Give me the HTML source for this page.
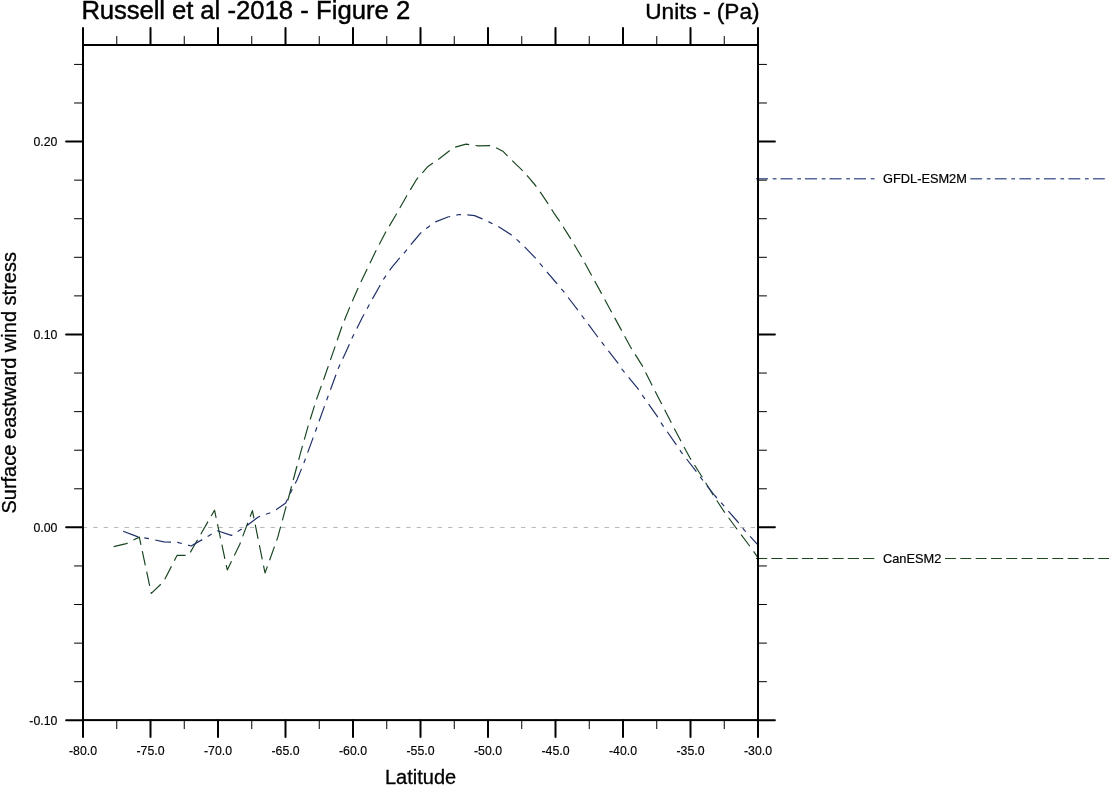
<!DOCTYPE html>
<html lang="en"><head><meta charset="utf-8"><title>Russell et al -2018 - Figure 2</title>
<style>
html,body{margin:0;padding:0;background:#fff;}
body{width:1109px;height:785px;overflow:hidden;}
svg{display:block;}
text{font-family:"Liberation Sans",Arial,Helvetica,sans-serif;fill:#000;}
</style></head><body>
<svg width="1109" height="785" viewBox="0 0 1109 785">
<rect width="1109" height="785" fill="#fff"/>
<line x1="82.8" y1="527.45" x2="758.0" y2="527.45" stroke="#b6b6b6" stroke-width="1" stroke-dasharray="4.4 6.035"/>
<path d="M113.7,546.6 L126.3,543.6 L139.3,537.1 L151.3,593.4 L163.7,581.5 L177.0,555.4 L188.5,555.4 L201.9,532.3 L214.5,510.2 L227.3,569.9 L239.7,544.5 L252.4,510.6 L265.0,573.0 L277.6,537.9 L290.2,491.5 L293.2,480.0 L300.6,452.7 L308.1,426.2 L316.4,399.7 L324.7,376.5 L333.0,352.6 L341.5,327.7 L349.8,307.0 L358.1,287.9 L367.2,268.9 L375.3,252.0 L385.6,232.2 L395.7,215.3 L406.5,196.2 L416.4,179.7 L428.0,166.4 L437.9,159.8 L449.5,150.7 L455.3,147.1 L466.0,144.1 L478.3,145.9 L490.5,145.6 L495.6,147.4 L503.3,151.6 L507.2,155.7 L512.2,160.6 L516.1,164.4 L522.1,170.2 L528.7,177.4 L535.9,186.0 L541.3,193.6 L547.5,202.9 L553.8,212.8 L559.4,220.8 L566.4,231.9 L570.5,238.4 L581.3,256.5 L591.2,274.7 L601.2,292.9 L611.1,311.2 L621.0,329.4 L630.5,347.0 L642.2,365.6 L651.3,383.8 L661.2,402.9 L670.4,421.1 L680.1,439.6 L689.9,457.8 L702.3,477.3 L713.0,494.7 L723.8,511.2 L735.4,527.0 L747.8,543.5 L757.4,556.8" fill="none" stroke="#184621" stroke-width="1.18" stroke-dasharray="14.5 6.44" stroke-linejoin="round"/>
<path d="M123.1,531.2 L136.7,536.4 L150.3,538.9 L163.9,541.9 L177.5,542.4 L191.1,546.0 L204.2,538.5 L217.3,530.8 L231.4,535.4 L244.7,527.3 L257.9,517.2 L270.3,512.7 L276.1,509.7 L285.7,503.1 L291.9,489.9 L297.0,480.0 L304.0,462.6 L315.5,431.2 L327.1,398.9 L338.7,367.4 L345.7,352.5 L352.3,337.6 L362.2,317.7 L373.0,297.9 L383.8,278.8 L391.2,268.1 L398.5,259.3 L405.1,251.9 L410.6,244.8 L415.2,239.5 L420.5,233.2 L427.0,228.0 L435.5,221.9 L447.9,217.0 L459.5,214.5 L467.6,214.8 L474.6,215.6 L481.7,218.6 L489.8,222.4 L498.1,226.4 L510.5,234.3 L518.0,240.6 L524.4,246.7 L534.8,257.4 L540.7,264.4 L556.4,283.0 L563.1,290.9 L577.1,309.2 L582.9,317.0 L597.0,336.0 L603.0,343.8 L617.4,362.3 L622.3,369.7 L637.7,388.3 L643.0,396.2 L657.1,416.1 L662.1,424.4 L675.7,443.9 L681.4,452.3 L695.6,470.6 L702.3,479.7 L714.7,495.5 L721.3,502.9 L737.9,522.0 L744.5,530.3 L757.4,544.3" fill="none" stroke="#202e69" stroke-width="1.18" stroke-dasharray="16 6.3 4.7 6.4" stroke-linejoin="round"/>
<line x1="756" y1="178.7" x2="875" y2="178.7" stroke="#57689a" stroke-width="1.4" stroke-dasharray="12 4.7 3.8 4.0"/>
<line x1="970.3" y1="178.7" x2="1106" y2="178.7" stroke="#57689a" stroke-width="1.4" stroke-dasharray="11.8 4.7 3.7 4.34"/>
<line x1="756" y1="558.5" x2="875" y2="558.5" stroke="#1c481e" stroke-width="1.1" stroke-dasharray="11.2 4.1"/>
<line x1="945" y1="558.5" x2="1109" y2="558.5" stroke="#1c481e" stroke-width="1.1" stroke-dasharray="10.9 4.43"/>
<g stroke="#000" stroke-linecap="butt" fill="none">
<rect x="83.0" y="45.0" width="675.0" height="675.1" stroke-width="2"/>
<line x1="83.00" y1="720.15" x2="83.00" y2="737.05" stroke-width="2" stroke-linecap="round"/>
<line x1="83.00" y1="45.0" x2="83.00" y2="28.1" stroke-width="2" stroke-linecap="round"/>
<line x1="116.75" y1="720.15" x2="116.75" y2="729.05" stroke-width="1"/>
<line x1="116.75" y1="45.0" x2="116.75" y2="36.1" stroke-width="1"/>
<line x1="150.50" y1="720.15" x2="150.50" y2="737.05" stroke-width="2" stroke-linecap="round"/>
<line x1="150.50" y1="45.0" x2="150.50" y2="28.1" stroke-width="2" stroke-linecap="round"/>
<line x1="184.25" y1="720.15" x2="184.25" y2="729.05" stroke-width="1"/>
<line x1="184.25" y1="45.0" x2="184.25" y2="36.1" stroke-width="1"/>
<line x1="218.00" y1="720.15" x2="218.00" y2="737.05" stroke-width="2" stroke-linecap="round"/>
<line x1="218.00" y1="45.0" x2="218.00" y2="28.1" stroke-width="2" stroke-linecap="round"/>
<line x1="251.75" y1="720.15" x2="251.75" y2="729.05" stroke-width="1"/>
<line x1="251.75" y1="45.0" x2="251.75" y2="36.1" stroke-width="1"/>
<line x1="285.50" y1="720.15" x2="285.50" y2="737.05" stroke-width="2" stroke-linecap="round"/>
<line x1="285.50" y1="45.0" x2="285.50" y2="28.1" stroke-width="2" stroke-linecap="round"/>
<line x1="319.25" y1="720.15" x2="319.25" y2="729.05" stroke-width="1"/>
<line x1="319.25" y1="45.0" x2="319.25" y2="36.1" stroke-width="1"/>
<line x1="353.00" y1="720.15" x2="353.00" y2="737.05" stroke-width="2" stroke-linecap="round"/>
<line x1="353.00" y1="45.0" x2="353.00" y2="28.1" stroke-width="2" stroke-linecap="round"/>
<line x1="386.75" y1="720.15" x2="386.75" y2="729.05" stroke-width="1"/>
<line x1="386.75" y1="45.0" x2="386.75" y2="36.1" stroke-width="1"/>
<line x1="420.50" y1="720.15" x2="420.50" y2="737.05" stroke-width="2" stroke-linecap="round"/>
<line x1="420.50" y1="45.0" x2="420.50" y2="28.1" stroke-width="2" stroke-linecap="round"/>
<line x1="454.25" y1="720.15" x2="454.25" y2="729.05" stroke-width="1"/>
<line x1="454.25" y1="45.0" x2="454.25" y2="36.1" stroke-width="1"/>
<line x1="488.00" y1="720.15" x2="488.00" y2="737.05" stroke-width="2" stroke-linecap="round"/>
<line x1="488.00" y1="45.0" x2="488.00" y2="28.1" stroke-width="2" stroke-linecap="round"/>
<line x1="521.75" y1="720.15" x2="521.75" y2="729.05" stroke-width="1"/>
<line x1="521.75" y1="45.0" x2="521.75" y2="36.1" stroke-width="1"/>
<line x1="555.50" y1="720.15" x2="555.50" y2="737.05" stroke-width="2" stroke-linecap="round"/>
<line x1="555.50" y1="45.0" x2="555.50" y2="28.1" stroke-width="2" stroke-linecap="round"/>
<line x1="589.25" y1="720.15" x2="589.25" y2="729.05" stroke-width="1"/>
<line x1="589.25" y1="45.0" x2="589.25" y2="36.1" stroke-width="1"/>
<line x1="623.00" y1="720.15" x2="623.00" y2="737.05" stroke-width="2" stroke-linecap="round"/>
<line x1="623.00" y1="45.0" x2="623.00" y2="28.1" stroke-width="2" stroke-linecap="round"/>
<line x1="656.75" y1="720.15" x2="656.75" y2="729.05" stroke-width="1"/>
<line x1="656.75" y1="45.0" x2="656.75" y2="36.1" stroke-width="1"/>
<line x1="690.50" y1="720.15" x2="690.50" y2="737.05" stroke-width="2" stroke-linecap="round"/>
<line x1="690.50" y1="45.0" x2="690.50" y2="28.1" stroke-width="2" stroke-linecap="round"/>
<line x1="724.25" y1="720.15" x2="724.25" y2="729.05" stroke-width="1"/>
<line x1="724.25" y1="45.0" x2="724.25" y2="36.1" stroke-width="1"/>
<line x1="758.00" y1="720.15" x2="758.00" y2="737.05" stroke-width="2" stroke-linecap="round"/>
<line x1="758.00" y1="45.0" x2="758.00" y2="28.1" stroke-width="2" stroke-linecap="round"/>
<line x1="83.0" y1="720.27" x2="66.1" y2="720.27" stroke-width="2" stroke-linecap="round"/>
<line x1="758.0" y1="720.27" x2="774.9" y2="720.27" stroke-width="2" stroke-linecap="round"/>
<line x1="83.0" y1="681.69" x2="74.1" y2="681.69" stroke-width="1"/>
<line x1="758.0" y1="681.69" x2="766.9" y2="681.69" stroke-width="1"/>
<line x1="83.0" y1="643.11" x2="74.1" y2="643.11" stroke-width="1"/>
<line x1="758.0" y1="643.11" x2="766.9" y2="643.11" stroke-width="1"/>
<line x1="83.0" y1="604.53" x2="74.1" y2="604.53" stroke-width="1"/>
<line x1="758.0" y1="604.53" x2="766.9" y2="604.53" stroke-width="1"/>
<line x1="83.0" y1="565.95" x2="74.1" y2="565.95" stroke-width="1"/>
<line x1="758.0" y1="565.95" x2="766.9" y2="565.95" stroke-width="1"/>
<line x1="83.0" y1="527.37" x2="66.1" y2="527.37" stroke-width="2" stroke-linecap="round"/>
<line x1="758.0" y1="527.37" x2="774.9" y2="527.37" stroke-width="2" stroke-linecap="round"/>
<line x1="83.0" y1="488.79" x2="74.1" y2="488.79" stroke-width="1"/>
<line x1="758.0" y1="488.79" x2="766.9" y2="488.79" stroke-width="1"/>
<line x1="83.0" y1="450.21" x2="74.1" y2="450.21" stroke-width="1"/>
<line x1="758.0" y1="450.21" x2="766.9" y2="450.21" stroke-width="1"/>
<line x1="83.0" y1="411.63" x2="74.1" y2="411.63" stroke-width="1"/>
<line x1="758.0" y1="411.63" x2="766.9" y2="411.63" stroke-width="1"/>
<line x1="83.0" y1="373.05" x2="74.1" y2="373.05" stroke-width="1"/>
<line x1="758.0" y1="373.05" x2="766.9" y2="373.05" stroke-width="1"/>
<line x1="83.0" y1="334.47" x2="66.1" y2="334.47" stroke-width="2" stroke-linecap="round"/>
<line x1="758.0" y1="334.47" x2="774.9" y2="334.47" stroke-width="2" stroke-linecap="round"/>
<line x1="83.0" y1="295.89" x2="74.1" y2="295.89" stroke-width="1"/>
<line x1="758.0" y1="295.89" x2="766.9" y2="295.89" stroke-width="1"/>
<line x1="83.0" y1="257.31" x2="74.1" y2="257.31" stroke-width="1"/>
<line x1="758.0" y1="257.31" x2="766.9" y2="257.31" stroke-width="1"/>
<line x1="83.0" y1="218.73" x2="74.1" y2="218.73" stroke-width="1"/>
<line x1="758.0" y1="218.73" x2="766.9" y2="218.73" stroke-width="1"/>
<line x1="83.0" y1="180.15" x2="74.1" y2="180.15" stroke-width="1"/>
<line x1="758.0" y1="180.15" x2="766.9" y2="180.15" stroke-width="1"/>
<line x1="83.0" y1="141.57" x2="66.1" y2="141.57" stroke-width="2" stroke-linecap="round"/>
<line x1="758.0" y1="141.57" x2="774.9" y2="141.57" stroke-width="2" stroke-linecap="round"/>
<line x1="83.0" y1="102.99" x2="74.1" y2="102.99" stroke-width="1"/>
<line x1="758.0" y1="102.99" x2="766.9" y2="102.99" stroke-width="1"/>
<line x1="83.0" y1="64.41" x2="74.1" y2="64.41" stroke-width="1"/>
<line x1="758.0" y1="64.41" x2="766.9" y2="64.41" stroke-width="1"/>
</g>
<g font-size="12.3" stroke="#000" stroke-width="0.15">
<text x="83.0" y="754.8" text-anchor="middle">-80.0</text>
<text x="150.5" y="754.8" text-anchor="middle">-75.0</text>
<text x="218.0" y="754.8" text-anchor="middle">-70.0</text>
<text x="285.5" y="754.8" text-anchor="middle">-65.0</text>
<text x="353.0" y="754.8" text-anchor="middle">-60.0</text>
<text x="420.5" y="754.8" text-anchor="middle">-55.0</text>
<text x="488.0" y="754.8" text-anchor="middle">-50.0</text>
<text x="555.5" y="754.8" text-anchor="middle">-45.0</text>
<text x="623.0" y="754.8" text-anchor="middle">-40.0</text>
<text x="690.5" y="754.8" text-anchor="middle">-35.0</text>
<text x="758.0" y="754.8" text-anchor="middle">-30.0</text>
<text x="57.4" y="724.6" text-anchor="end">-0.10</text>
<text x="57.4" y="531.8" text-anchor="end">0.00</text>
<text x="57.4" y="338.8" text-anchor="end">0.10</text>
<text x="57.4" y="145.9" text-anchor="end">0.20</text>
</g>
<text id="t_title" x="81.4" y="19.3" stroke="#000" stroke-width="0.45" font-size="25.7"><tspan letter-spacing="-0.1">Russell et</tspan> al -2018 - Figure 2</text>
<text id="t_units" x="759.5" y="18.9" font-size="22.6" text-anchor="end" stroke="#000" stroke-width="0.4">Units - (Pa)</text>
<text id="t_lat" x="420.6" y="783.8" font-size="20" text-anchor="middle" stroke="#000" stroke-width="0.3">Latitude</text>
<text id="t_ylab" transform="translate(15.5,382.8) rotate(-90)" font-size="20.05" text-anchor="middle" stroke="#000" stroke-width="0.3">Surface eastward wind stress</text>
<text id="t_l1" x="883" y="183.3" font-size="12.8" stroke="#000" stroke-width="0.2">GFDL-ESM2M</text>
<text id="t_l2" x="883" y="563.3" font-size="12.8" stroke="#000" stroke-width="0.2">CanESM2</text>
</svg></body></html>
